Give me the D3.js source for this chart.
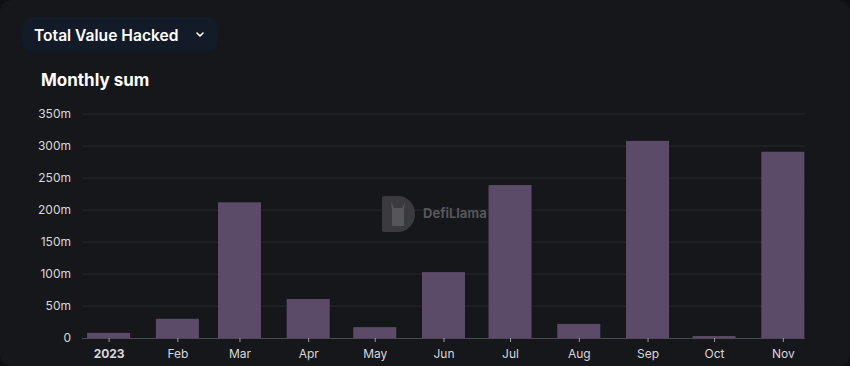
<!DOCTYPE html>
<html><head><meta charset="utf-8">
<script src="https://cdn.jsdelivr.net/npm/d3@7"></script>
<style>
html,body{margin:0;padding:0;background:#0f1013;}
svg{display:block;font-family:Inter,"Noto Sans",sans-serif;}
</style></head>
<body><svg id="c" width="850" height="366"></svg>
<script>
const months = ["2023-01-01","2023-02-01","2023-03-01","2023-04-01","2023-05-01","2023-06-01","2023-07-01","2023-08-01","2023-09-01","2023-10-01","2023-11-01"];
const hackedM = [8, 30, 212, 61, 17, 103, 239, 22, 308, 3, 291];
const monthLabels = ["2023","Feb","Mar","Apr","May","Jun","Jul","Aug","Sep","Oct","Nov"];
const yTicks = [0, 50, 100, 150, 200, 250, 300, 350];

const svg = d3.select("#c");
svg.append("rect").attr("x",0).attr("y",0).attr("width",850).attr("height",366).attr("rx",12).attr("fill","#16171b");

// dropdown pill
svg.append("rect").attr("x",22).attr("y",17).attr("width",196).attr("height",35).attr("rx",11).attr("fill","#131b28");
svg.append("text").attr("x",34).attr("y",40.5).attr("fill","#ffffff").attr("font-size",15.6).attr("font-weight",600).text("Total Value Hacked");
svg.append("path").attr("d","M197,33 L200,36 L203,33").attr("fill","none").attr("stroke","#ffffff").attr("stroke-width",1.6).attr("stroke-linecap","round").attr("stroke-linejoin","round");

svg.append("text").attr("x",41).attr("y",86).attr("fill","#ffffff").attr("font-size",17).attr("font-weight",700).text("Monthly sum");

const parse = d3.utcParse("%Y-%m-%d");
const dates = months.map(parse);
const x = d3.scaleUtc().domain([parse("2022-12-20"), parse("2023-11-11")]).range([82, 805]);
const y = d3.scaleLinear().domain([0, 350]).range([338, 114]);

// gridlines
svg.append("g").selectAll("line").data(yTicks.filter(d=>d>0)).join("line")
  .attr("x1",82).attr("x2",805).attr("y1",d=>y(d)).attr("y2",d=>y(d))
  .attr("stroke","#26272d").attr("stroke-width",1);

// y labels
svg.append("g").selectAll("text").data(yTicks).join("text")
  .attr("x",71).attr("y",d=>y(d)+4).attr("text-anchor","end")
  .attr("fill","#d8d8dc").attr("font-size",12).text(d=>d===0?"0":d+"m");

// watermark
const wm = svg.append("g");
wm.append("path").attr("d","M384,196 h14 a17,18 0 0 1 0,36 h-14 a2,2 0 0 1 -2,-2 v-32 a2,2 0 0 1 2,-2 z").attr("fill","#3b3b3f");
wm.append("path").attr("d","M391,202 l3,6 h8 l3,-6 l-1,8 v16 h-12 v-16 z").attr("fill","#55565a");
wm.append("text").attr("x",423).attr("y",218).attr("fill","#55565a").attr("font-size",13).attr("font-weight",700).text("DefiLlama");

// bars
const barW = 43;
svg.append("g").selectAll("rect").data(hackedM).join("rect")
  .attr("x",(d,i)=>x(dates[i])-barW/2).attr("width",barW)
  .attr("y",d=>y(d)).attr("height",d=>y(0)-y(d))
  .attr("fill","#5c4b68");

// x axis
const xAxis = d3.axisBottom(x).tickValues(dates).tickSize(4).tickFormat((d,i)=>monthLabels[i]);
const gx = svg.append("g").attr("transform","translate(0,338)").call(xAxis);
gx.select(".domain").attr("stroke","#4a4b52").attr("d","M82,0.5H805");
gx.selectAll(".tick line").attr("stroke","#9a9aa0");
gx.selectAll(".tick text").attr("fill","#d8d8dc").attr("font-size",12).attr("dy","1.05em")
  .attr("font-weight",(d,i)=>i===0?700:400).attr("font-family","Inter,'Noto Sans',sans-serif");
</script></body></html>
